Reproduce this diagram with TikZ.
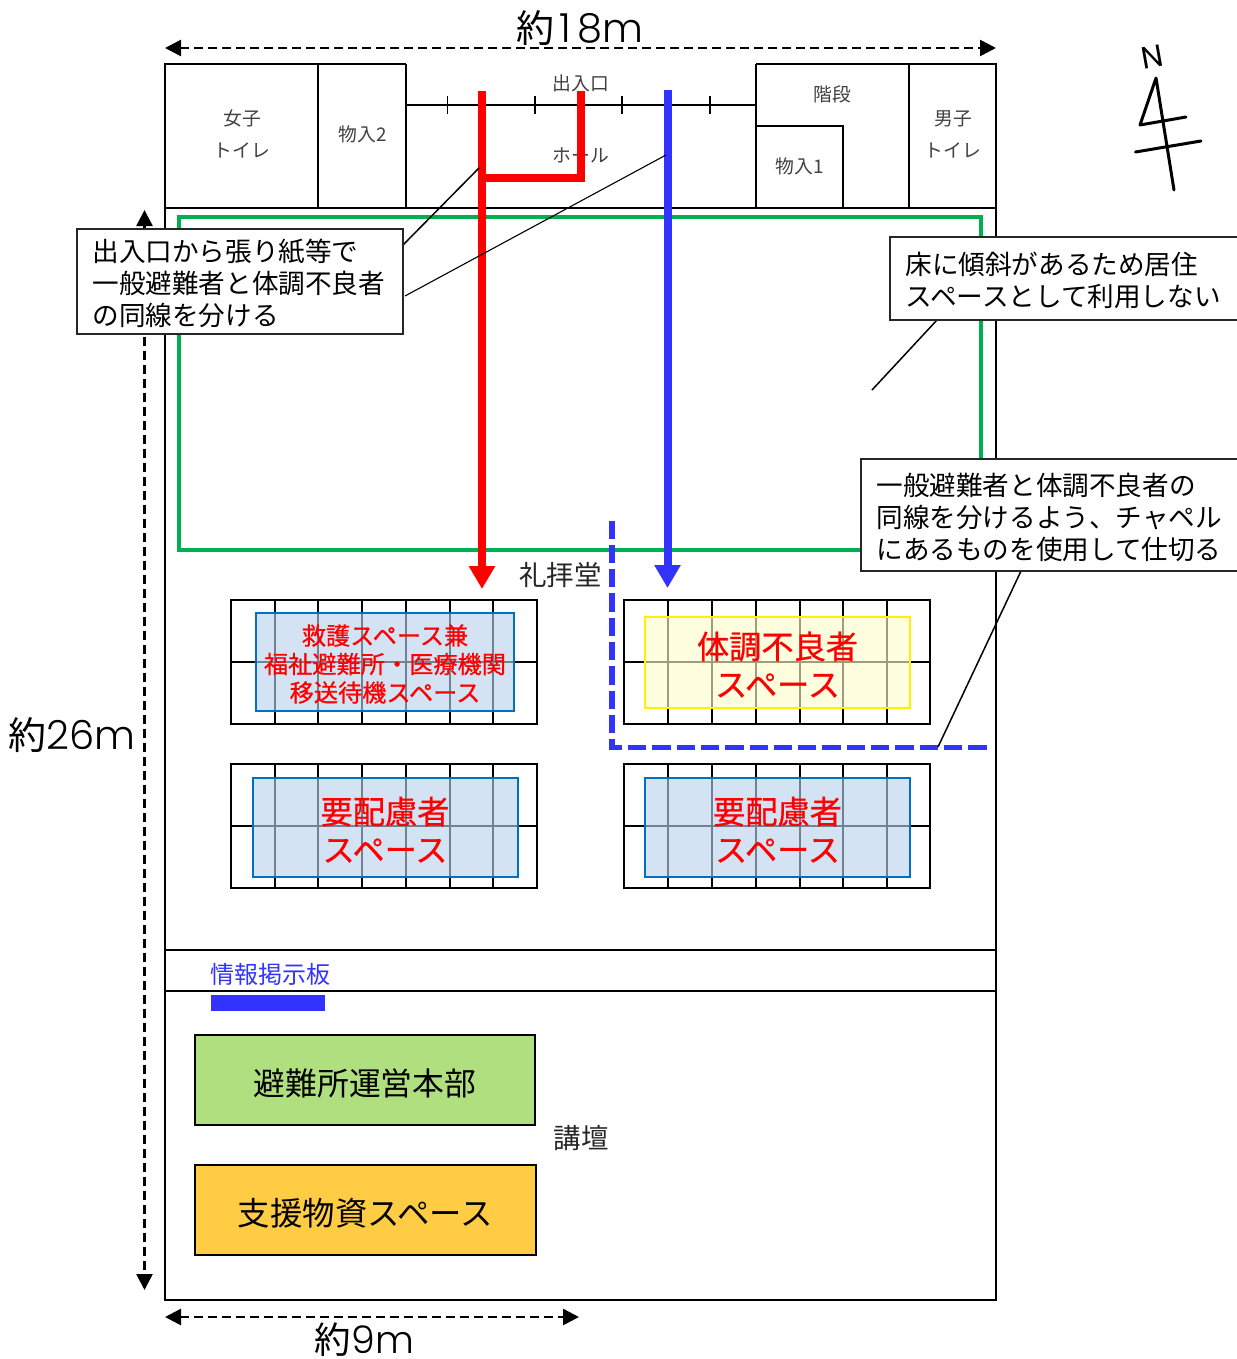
\documentclass[tikz,border=0pt]{standalone}
\usepackage{fontspec}
\setmainfont{Noto Sans CJK JP}
\newfontfamily\thickcjk[FakeBold=0.7]{Noto Sans CJK JP}
\newfontfamily\latinwide{Poppins Light}
\newfontfamily\latinreg{Poppins}
\usetikzlibrary{arrows.meta}
\definecolor{labelgray}{HTML}{404040}
\definecolor{routeblue}{HTML}{3333FF}
\definecolor{areagreen}{HTML}{00B050}
\definecolor{hqgreen}{HTML}{B0DF80}
\definecolor{supplyorange}{HTML}{FFCC44}
\definecolor{zoneblue}{HTML}{B8D2EC}
\definecolor{zoneyellow}{HTML}{FFFFCC}
\definecolor{zoneedge}{HTML}{0070C0}
\newcommand{\fs}[2]{\fontsize{#1}{#2}\selectfont}
\tikzset{
  every node/.style={outer sep=0pt},
  wall/.style={draw=black,line width=2pt},
  room/.style={text=labelgray,font=\fs{18.8}{32},align=center,inner sep=0pt},
  dimline/.style={line width=2.6pt,dash pattern=on 9pt off 5pt,{Triangle[length=16pt,width=16pt]}-{Triangle[length=16pt,width=16pt]}},
  dimtext/.style={font=\fs{38}{40},inner sep=0pt},
  callout/.style={draw=black!85,line width=1.6pt,fill=white,anchor=north west,inner sep=0pt},
  callouttext/.style={anchor=west,align=left,inner sep=0pt,font=\fs{26.6}{32}},
  leader/.style={draw=black,line width=1.5pt},
  route/.style={line width=8pt,-{Triangle[length=23pt,width=25pt]}},
  zone/.style={draw=zoneedge,line width=2pt,fill=zoneblue,fill opacity=.62,inner sep=0pt},
  zonetext/.style={text=red,align=center,inner sep=0pt},
  plainlabel/.style={font=\fs{27.5}{32},inner sep=0pt,text=black!85},
  solidbox/.style={draw=black,line width=1.6pt,inner sep=0pt},
}
\begin{document}
\begin{tikzpicture}[x=1pt,y=-1pt]
\useasboundingbox (0,0) rectangle (1236,1359);
% building
\draw[wall,line join=miter] (406,64) -- (165,64) -- (165,1300) -- (996,1300) -- (996,64) -- (756,64);
\draw[wall] (165,208) -- (996,208);
\draw[wall] (318,64) -- (318,208);
\draw[wall] (406,64) -- (406,208);
\draw[wall] (756,64) -- (756,208);
\draw[wall] (909,64) -- (909,208);
\draw[wall] (406,105) -- (756,105);
\draw[wall] (756,126) -- (843,126) -- (843,208);
\foreach \x in {447.5,535,622,710} \draw[line width=1.4pt] (\x,96) -- (\x,114);
\draw[wall] (165,950) -- (996,950);
\draw[wall] (165,991) -- (996,991);
% rooms
\node[room] (wc1) at (242,134) {女子\\トイレ};
\node[room] (st2) at (363,134) {物入2};
\node[room] (door) at (581,83) {出入口};
\node[room] (hall) at (581,155) {ホール};
\node[room] (stairs) at (832,94) {階段};
\node[room] (st1) at (800,166) {物入1};
\node[room] (wc2) at (953,134) {男子\\トイレ};
% chapel area
\draw[areagreen,line width=4pt] (178.5,217) rectangle (981,549.5);
% seating grids
\foreach \gx/\gy/\cols in {231/600/{275,318,362,406,450,493},231/764/{275,318,362,406,450,493},624/600/{668,712,756,800,843,887},624/764/{668,712,756,800,843,887}}{
  \draw[line width=2pt] (\gx,\gy) rectangle ++(306,123.5);
  \draw[line width=2pt] (\gx,\gy+61.5) -- ++(306,0);
  \foreach \x in \cols \draw[line width=2pt] (\x,\gy) -- (\x,\gy+123.5);
}
% zones
\node[zone,minimum width=258pt,minimum height=98pt] (z1) at (385,662) {};
\node[zone,minimum width=265pt,minimum height=98.5pt] (z2) at (385,827.7) {};
\node[zone,draw=yellow,fill=zoneyellow,minimum width=265pt,minimum height=91pt] (z3) at (777.5,662.5) {};
\node[zone,minimum width=265pt,minimum height=98.5pt] (z4) at (777.5,827.7) {};
\node[zonetext,font=\thickcjk\fs{24.2}{28.5}] (t1) at ([yshift=-2pt]z1.center) {救護スペース兼\\福祉避難所・医療機関\\移送待機スペース};
\node[zonetext,font=\thickcjk\fs{32.2}{38}] (t2) at ([yshift=-2pt]z2.center) {要配慮者\\スペース};
\node[zonetext,font=\thickcjk\fs{32.2}{38}] (t3) at ([yshift=-2pt]z3.center) {体調不良者\\スペース};
\node[zonetext,font=\thickcjk\fs{32.2}{38}] (t4) at ([yshift=-2pt]z4.center) {要配慮者\\スペース};
% routes
\coordinate (redtop) at (482,91);
\coordinate (redend) at (482,589);
\coordinate (branchtop) at (581,91);
\coordinate (branchjoin) at (482,178.5);
\coordinate (bluetop) at (667.5,90);
\coordinate (blueend) at (667.5,588);
\draw[route,red] (redtop) -- (redend);
\draw[red,line width=8pt,line join=miter] (branchtop) |- (branchjoin);
\draw[route,routeblue] (bluetop) -- (blueend);
% partition
\coordinate (parttop) at (612,518);
\coordinate (partcorner) at (612,747.5);
\coordinate (partend) at (987.5,747.5);
\draw[routeblue,line width=5.6pt,dash pattern=on 18.3pt off 6pt,dash phase=21.8pt] (parttop) -- (partcorner) -- (partend);
% labels
\node[plainlabel] (chapel) at (560.5,575) {礼拝堂};
\node[plainlabel] (podium) at (581,1138) {講壇};
\node[font=\fs{24}{28},text=routeblue,inner sep=0pt] (board) at (270.5,974) {情報掲示板};
\fill[routeblue] (211,995) rectangle (325,1011);
% boxes
\node[solidbox,fill=hqgreen,minimum width=340pt,minimum height=90pt] (hq) at (365,1080) {};
\node[font=\fs{31.8}{38},inner sep=0pt] (hqt) at ([yshift=-3pt]hq.center) {避難所運営本部};
\node[solidbox,fill=supplyorange,minimum width=341pt,minimum height=90pt] (sup) at (365.5,1210) {};
\node[font=\fs{32.4}{38},inner sep=0pt] (supt) at ([yshift=-3pt]sup.center) {支援物資スペース};
% leaders
\coordinate (l1a) at (403,245);
\coordinate (l1b) at (479,168);
\coordinate (l2a) at (405,296);
\coordinate (l2b) at (666,155);
\coordinate (l3a) at (937,320);
\coordinate (l3b) at (872,390);
\coordinate (l4a) at (1021,571);
\coordinate (l4b) at (938,747);
\draw[leader] (l1a) -- (l1b);
\draw[leader,line width=1.1pt] (l2a) -- (l2b);
\draw[leader] (l3a) -- (l3b);
\draw[leader] (l4a) -- (l4b);
% dimensions
\coordinate (dtl) at (165,48);
\coordinate (dtr) at (996,48);
\coordinate (dlt) at (144.5,210);
\coordinate (dlb) at (144.5,1290);
\coordinate (dbl) at (165,1317);
\coordinate (dbr) at (579,1317);
\draw[dimline] (dtl) -- (dtr);
\draw[dimline] (dlt) -- (dlb);
\draw[dimline] (dbl) -- (dbr);
\node[dimtext] (d18) at (580,28) {約{\kern5pt\latinwide\fs{40}{40}1\kern7pt 8m}};
\node[dimtext] (d26) at (72,735) {約{\latinwide\fs{40}{40}26m}};
\node[font=\fs{36.5}{38},inner sep=0pt] (d9) at (364.5,1339.5) {約{\latinwide\fs{38}{38}9m}};
% callouts
\node[callout,minimum width=326pt,minimum height=105pt] (c1) at (77,229) {};
\node[callouttext] (c1t) at ([xshift=15.5pt,yshift=-2pt]c1.west) {出入口から張り紙等で\\一般避難者と体調不良者\\の同線を分ける};
\node[callout,minimum width=360pt,minimum height=83pt] (c2) at (890,237) {};
\node[callouttext] (c2t) at ([xshift=15.5pt,yshift=-2pt]c2.west) {床に傾斜があるため居住\\スペースとして利用しない};
\node[callout,minimum width=389pt,minimum height=112pt] (c3) at (861,459) {};
\node[callouttext] (c3t) at ([xshift=15.5pt,yshift=-2pt]c3.west) {一般避難者と体調不良者の\\同線を分けるよう、チャペル\\にあるものを使用して仕切る};
% north mark
\node[font=\latinreg\fs{31}{32},inner sep=0pt,rotate=10] (north) at (1152,57) {N};
\coordinate (n1) at (1156,78);
\coordinate (n2) at (1140,125);
\coordinate (n3) at (1186,117);
\coordinate (n4) at (1174,190);
\coordinate (n5) at (1135.5,152);
\coordinate (n6) at (1201,141);
\draw[line width=3pt,line join=round,line cap=round] (n3) -- (n2) -- (n1) -- (n4);
\draw[line width=3pt,line cap=round] (n5) -- (n6);
\end{tikzpicture}
\end{document}
